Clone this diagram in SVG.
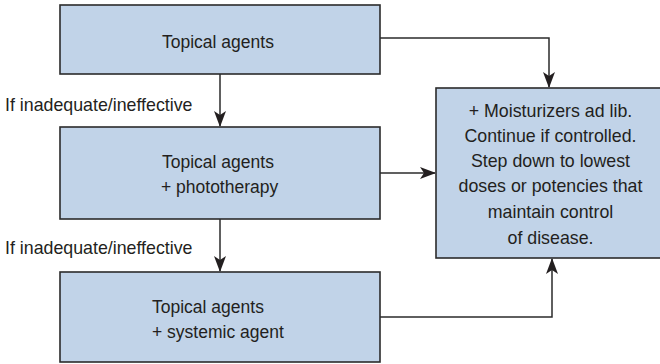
<svg xmlns="http://www.w3.org/2000/svg" width="660" height="364" viewBox="0 0 660 364">
<style>
.box{fill:#c1d3e8;stroke:#2b2b2b;stroke-width:1.6}
.t{font-family:"Liberation Sans",Arial,sans-serif;font-size:17.5px;fill:#231f20}
.c{text-anchor:middle;font-size:17.8px}
.lab{font-family:"Liberation Sans",Arial,sans-serif;font-size:17.8px;fill:#231f20}
.ln{fill:none;stroke:#2b2b2b;stroke-width:1.5}
</style>
<defs>
<marker id="ah" viewBox="0 0 16 12" refX="15" refY="6" markerWidth="16" markerHeight="12" markerUnits="userSpaceOnUse" orient="auto">
<path d="M0,0 L16,6 L0,12 L4,6 Z" fill="#231f20"/>
</marker>
</defs>
<g id="connectors">
<path class="ln" d="M220,74 V126" marker-end="url(#ah)"/>
<path class="ln" d="M220,219 V271" marker-end="url(#ah)"/>
<path class="ln" d="M380,38 H549 V87" marker-end="url(#ah)"/>
<path class="ln" d="M380,173 H435" marker-end="url(#ah)"/>
<path class="ln" d="M380,317 H552 V259" marker-end="url(#ah)"/>
</g>
<g id="node1">
<rect class="box" x="60" y="5" width="320" height="69"/>
<text class="t" x="162" y="48">Topical agents</text>
</g>
<g id="node2">
<rect class="box" x="60" y="127" width="320" height="92"/>
<text class="t" x="162" y="168">Topical agents</text>
<text class="t" x="161" y="193">+ phototherapy</text>
</g>
<g id="node3">
<rect class="box" x="60" y="272" width="320" height="90"/>
<text class="t" x="152" y="313">Topical agents</text>
<text class="t" x="152" y="338">+ systemic agent</text>
</g>
<g id="node4">
<rect class="box" x="436" y="88" width="230" height="170"/>
<text class="t c" x="550.5" y="117">+ Moisturizers ad lib.</text>
<text class="t c" x="550.5" y="142">Continue if controlled.</text>
<text class="t c" x="550.5" y="167">Step down to lowest</text>
<text class="t c" x="550.5" y="192">doses or potencies that</text>
<text class="t c" x="550.5" y="218">maintain control</text>
<text class="t c" x="550.5" y="244">of disease.</text>
</g>
<g id="labels">
<text class="lab" x="5" y="111">If inadequate/ineffective</text>
<text class="lab" x="5" y="254">If inadequate/ineffective</text>
</g>
</svg>
